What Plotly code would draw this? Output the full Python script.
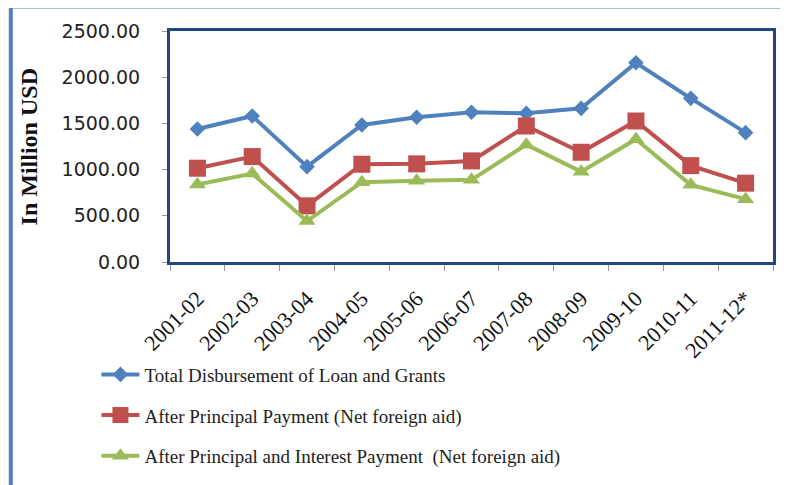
import plotly.graph_objects as go

years = ["2001-02", "2002-03", "2003-04", "2004-05", "2005-06", "2006-07",
         "2007-08", "2008-09", "2009-10", "2010-11", "2011-12*"]
total = [1439, 1580, 1032, 1483, 1566, 1620, 1609, 1663, 2156, 1771, 1400]
after_principal = [1015, 1141, 608, 1058, 1062, 1094, 1472, 1188, 1526, 1043, 853]
after_interest = [838, 957, 443, 864, 878, 889, 1270, 978, 1328, 835, 680]

names = ["Total Disbursement of Loan and Grants",
         "After Principal Payment (Net foreign aid)",
         "After Principal and Interest Payment  (Net foreign aid)"]
colors = ["#4F81BD", "#C0504D", "#9BBB59"]
symbols = ["diamond", "square", "triangle-up"]
sizes = [12, 17, 15]

fig = go.Figure()
for i, vals in enumerate([total, after_principal, after_interest]):
    fig.add_trace(go.Scatter(
        x=years, y=vals, name=names[i], mode="lines+markers",
        line=dict(color=colors[i], width=4),
        marker=dict(symbol=symbols[i], size=sizes[i], color=colors[i]),
        legendgroup=str(i),
    ))

fig.update_layout(
    width=788, height=485,
    margin=dict(l=161.5, r=23, t=23, b=231, autoexpand=False),
    paper_bgcolor="white", plot_bgcolor="white",
    showlegend=True,
    legend=dict(
        x=-0.122, y=-0.405, xanchor="left", yanchor="top",
        font=dict(family="Liberation Serif", size=19, color="#222"),
        tracegroupgap=13, itemwidth=38, bgcolor="rgba(0,0,0,0)",
    ),
    xaxis=dict(
        type="category", range=[-0.5, 10.5],
        showgrid=False, ticks="outside", tickson="boundaries",
        ticklen=6, tickcolor="#999", tickwidth=1,
        tickangle=-45, ticklabelstandoff=12,
        tickfont=dict(family="Liberation Serif", size=22, color="#111"),
        showline=True, linecolor="#1F497D", linewidth=3, mirror=True,
    ),
    yaxis=dict(
        range=[0, 2500], tickvals=[0, 500, 1000, 1500, 2000, 2500],
        tickformat=".2f", showgrid=False, zeroline=False,
        ticks="outside", ticklen=5, tickcolor="#999", tickwidth=1,
        ticklabelstandoff=18,
        tickfont=dict(family="DejaVu Sans", size=19, color="#222"),
        showline=True, linecolor="#1F497D", linewidth=3, mirror=True,
    ),
    annotations=[dict(
        text="<b>In Million USD</b>", textangle=-90,
        xref="paper", yref="paper", x=-0.234, y=0.5,
        xanchor="center", yanchor="middle", showarrow=False,
        font=dict(family="Liberation Serif", size=24, color="#111"),
    )],
    shapes=[
        dict(type="line", xref="paper", yref="paper", x0=-0.264, x1=-0.264,
             y0=1.11, y1=-1.2, line=dict(color="#4F81BD", width=4)),
        dict(type="line", xref="paper", yref="paper", x0=-0.267, x1=1.04,
             y0=1.104, y1=1.104, line=dict(color="#4F81BD", width=3)),
        dict(type="line", xref="paper", yref="paper", x0=1.031, x1=1.031,
             y0=1.104, y1=-1.2, line=dict(color="#8EA9CF", width=1.5)),
    ],
)

fig.write_html("out.html")
